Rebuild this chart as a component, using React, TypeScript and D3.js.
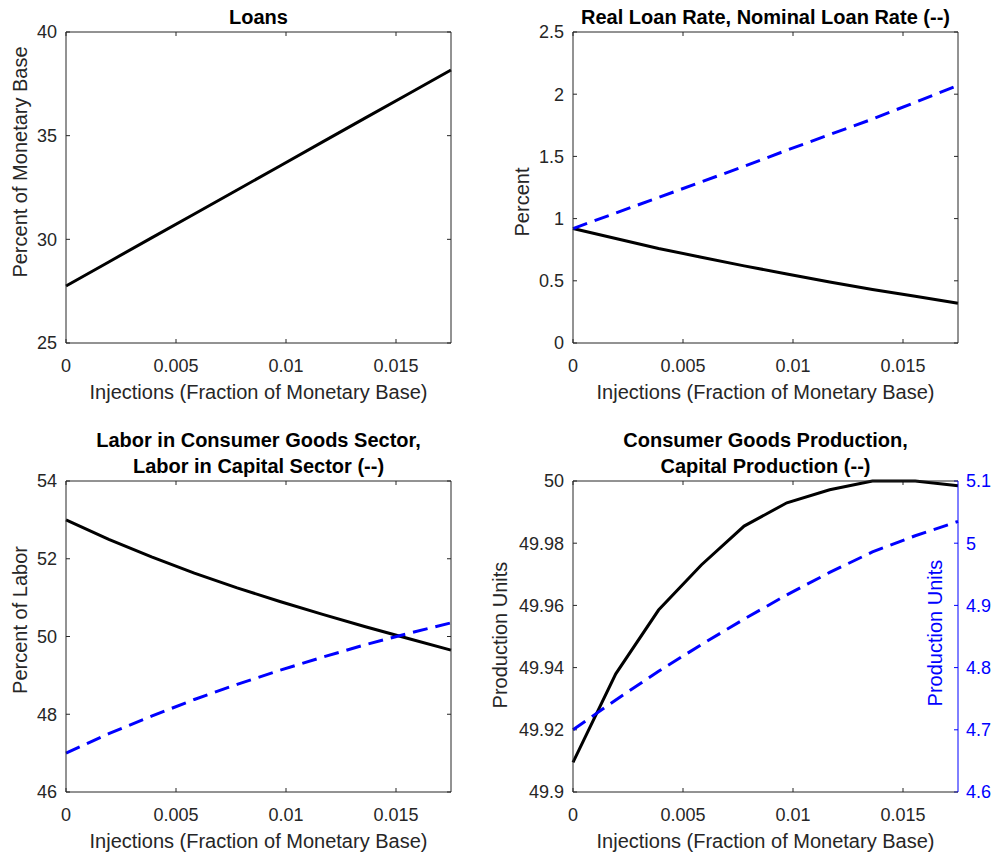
import React, { useEffect, useRef } from 'react';
import * as d3 from 'd3';

// injection grid (fraction of monetary base)
const injections = [0, 0.001944, 0.003889, 0.005833, 0.007778, 0.009722, 0.011667, 0.013611, 0.015556, 0.0175];
const xTicks = [0, 0.005, 0.01, 0.015];

const loans = [27.75, 28.91, 30.07, 31.22, 32.38, 33.54, 34.7, 35.86, 37.01, 38.17];
const realRate = [0.92, 0.84, 0.76, 0.69, 0.62, 0.555, 0.49, 0.43, 0.375, 0.32];
const nominalRate = [0.92, 1.045, 1.17, 1.295, 1.42, 1.55, 1.675, 1.8, 1.935, 2.07];
const laborConsumer = [53.0, 52.5, 52.05, 51.63, 51.25, 50.9, 50.57, 50.25, 49.95, 49.65];
const laborCapital = [47.0, 47.5, 47.95, 48.38, 48.77, 49.13, 49.47, 49.79, 50.08, 50.35];
const consumerProd = [49.9095, 49.938, 49.9585, 49.973, 49.9855, 49.993, 49.9972, 50.0, 50.0, 49.9985];
const capitalProd = [4.7, 4.748, 4.794, 4.837, 4.878, 4.917, 4.953, 4.986, 5.012, 5.035];

const loanTicks = [25, 30, 35, 40];
const rateTicks = [0, 0.5, 1, 1.5, 2, 2.5];
const laborTicks = [46, 48, 50, 52, 54];
const prodTicks = [49.9, 49.92, 49.94, 49.96, 49.98, 50];
const capTicks = [4.6, 4.7, 4.8, 4.9, 5, 5.1];

const W = 385;
const H = 311;
const AX = '#262626';
const FONT = '"Liberation Sans", Arial, Helvetica, sans-serif';

const App = () => {
  const ref = useRef<SVGSVGElement | null>(null);

  useEffect(() => {
    const svg = d3.select(ref.current);
    svg.selectAll('*').remove();

    const panels = [
      { left: 66, top: 32, title: ['Loans'], yTicks: loanTicks, ylabel: 'Percent of Monetary Base', lab: [20, 162],
        series: [{ y: loans, blue: false }] },
      { left: 573, top: 32, title: ['Real Loan Rate, Nominal Loan Rate (--)'], yTicks: rateTicks, ylabel: 'Percent', lab: [522, 202],
        series: [{ y: realRate, blue: false }, { y: nominalRate, blue: true }] },
      { left: 66, top: 481, title: ['Labor in Consumer Goods Sector,', 'Labor in Capital Sector (--)'], yTicks: laborTicks, ylabel: 'Percent of Labor', lab: [20, 620],
        series: [{ y: laborConsumer, blue: false }, { y: laborCapital, blue: true }] },
      { left: 573, top: 481, title: ['Consumer Goods Production,', 'Capital Production (--)'], yTicks: prodTicks, ylabel: 'Production Units', lab: [500, 635],
        series: [{ y: consumerProd, blue: false }], right: { ticks: capTicks, y: capitalProd, ylabel: 'Production Units', lab: [935, 633] } },
    ];

    panels.forEach((p: any) => {
      const g = svg.append('g').attr('transform', `translate(${p.left},${p.top})`);
      const x = d3.scaleLinear().domain([0, 0.0175]).range([0, W]);
      const yt = p.yTicks;
      const y = d3.scaleLinear().domain([yt[0], yt[yt.length - 1]]).range([H, 0]);

      g.append('rect').attr('width', W).attr('height', H).attr('fill', '#fff');

      // x ticks bottom + top
      xTicks.forEach(t => {
        g.append('line').attr('x1', x(t)).attr('x2', x(t)).attr('y1', H).attr('y2', H - 4).attr('stroke', AX);
        g.append('line').attr('x1', x(t)).attr('x2', x(t)).attr('y1', 0).attr('y2', 4).attr('stroke', AX);
        g.append('text').attr('x', x(t)).attr('y', H + 29).attr('text-anchor', 'middle')
          .attr('font-size', 18).attr('fill', AX).text(String(t));
      });
      // y ticks left (+ right when no second axis)
      yt.forEach((t: number) => {
        g.append('line').attr('x1', 0).attr('x2', 4).attr('y1', y(t)).attr('y2', y(t)).attr('stroke', AX);
        if (!p.right) g.append('line').attr('x1', W).attr('x2', W - 4).attr('y1', y(t)).attr('y2', y(t)).attr('stroke', AX);
        g.append('text').attr('x', -9).attr('y', y(t)).attr('dy', '0.35em').attr('text-anchor', 'end')
          .attr('font-size', 18).attr('fill', AX).text(String(t));
      });

      const line = (ys: number[], sc: any) => d3.line<number>().x((_, i) => x(injections[i])).y(d => sc(d))(ys);

      p.series.forEach((s: any) => {
        g.append('path').attr('d', line(s.y, y)).attr('fill', 'none')
          .attr('stroke', s.blue ? '#0000ff' : '#000').attr('stroke-width', 3)
          .attr('stroke-dasharray', s.blue ? '15,8' : null);
      });

      if (p.right) {
        const r = p.right;
        const y2 = d3.scaleLinear().domain([r.ticks[0], r.ticks[r.ticks.length - 1]]).range([H, 0]);
        g.append('path').attr('d', line(r.y, y2)).attr('fill', 'none')
          .attr('stroke', '#0000ff').attr('stroke-width', 3).attr('stroke-dasharray', '15,8');
        r.ticks.forEach((t: number) => {
          g.append('line').attr('x1', W).attr('x2', W - 4).attr('y1', y2(t)).attr('y2', y2(t)).attr('stroke', '#0000ff');
          g.append('text').attr('x', W + 8).attr('y', y2(t)).attr('dy', '0.35em')
            .attr('font-size', 18).attr('fill', '#0000ff').text(String(t));
        });
        svg.append('text').attr('transform', `translate(${r.lab[0]},${r.lab[1]}) rotate(-90)`)
          .attr('dy', '0.35em').attr('text-anchor', 'middle').attr('font-size', 20).attr('fill', '#0000ff').text(r.ylabel);
      }

      // box
      g.append('line').attr('x1', 0).attr('x2', W).attr('y1', H).attr('y2', H).attr('stroke', AX);
      g.append('line').attr('x1', 0).attr('x2', W).attr('y1', 0).attr('y2', 0).attr('stroke', AX);
      g.append('line').attr('x1', 0).attr('x2', 0).attr('y1', 0).attr('y2', H).attr('stroke', AX);
      g.append('line').attr('x1', W).attr('x2', W).attr('y1', 0).attr('y2', H)
        .attr('stroke', p.right ? '#0000ff' : AX);

      // titles and labels
      p.title.forEach((t: string, i: number) => {
        g.append('text').attr('x', W / 2).attr('y', -8 - (p.title.length - 1 - i) * 26)
          .attr('text-anchor', 'middle').attr('font-size', 20).attr('font-weight', 'bold').attr('fill', '#000').text(t);
      });
      g.append('text').attr('x', W / 2).attr('y', H + 56).attr('text-anchor', 'middle')
        .attr('font-size', 20).attr('fill', AX).text('Injections (Fraction of Monetary Base)');
      svg.append('text').attr('transform', `translate(${p.lab[0]},${p.lab[1]}) rotate(-90)`)
        .attr('dy', '0.35em').attr('text-anchor', 'middle').attr('font-size', 20).attr('fill', AX).text(p.ylabel);
    });
  }, []);

  return (
    <svg ref={ref} width={993} height={855}
      style={{ position: 'fixed', left: 0, top: 0, fontFamily: FONT, background: '#fff' }} />
  );
};

export default App;
